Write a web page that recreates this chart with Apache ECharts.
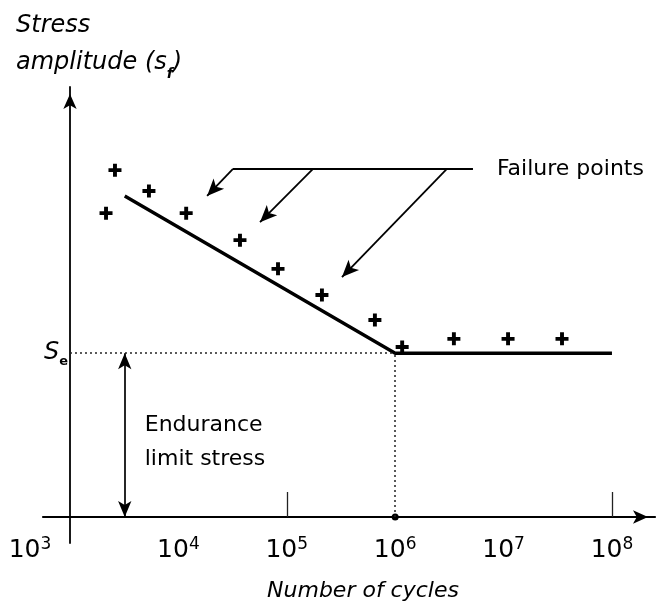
<!DOCTYPE html>
<html>
<head>
<meta charset="utf-8">
<script src="https://cdn.jsdelivr.net/npm/echarts@6/dist/echarts.min.js"></script>
<style>
  html, body { margin: 0; padding: 0; background: #fff; }
  #chart { width: 658px; height: 606px; }
</style>
</head>
<body>
<div id="chart"></div>
<script>
// ---- data ----
const decadeTicks = [3, 4, 5, 6, 7, 8];             // axis labels 10^n
const failureCycles = [2150, 2600, 5350, 11800, 37000, 83000, 211000, 650000, 1160000, 3480000, 11000000, 34600000];
const failureStress = [74.2, 84.7, 79.6, 74.2, 67.6, 60.6, 54.2, 48.1, 41.5, 43.5, 43.5, 43.5];
const curveCycles = [3200, 1000000, 100000000];
const curveStress = [78.4, 40, 40];
const enduranceLimit = 40;
const enduranceCycles = 1000000;
const enduranceArrowCycles = 3200;
const axisTickCycles = [100000, 100000000];
const calloutStartCycles = [31900, 174600, 3000000];
const calloutTipCycles = [18400, 56600, 323000];
const calloutTipStress = [78.4, 72.0, 58.6];
const calloutLineStress = 85;
const calloutEndCycles = 5220000;

// decades above 10^3 (so that 10^3 sits on the stress axis)
const lx = n => Math.log10(n) - 3;

const FONT = 'DejaVu Sans';
const INK = '#000';
const plusPath = 'path://M3.5,0 H6.5 V3.5 H10 V6.5 H6.5 V10 H3.5 V6.5 H0 V3.5 H3.5 Z';

const chart = echarts.init(document.getElementById('chart'), null, { renderer: 'canvas' });

const calloutLines = [
  [{ coord: [lx(calloutStartCycles[0]), calloutLineStress], symbol: 'none' },
   { coord: [lx(calloutEndCycles), calloutLineStress], symbol: 'none',
     label: { show: true, position: 'end', distance: 24, formatter: 'Failure points',
              fontFamily: FONT, fontSize: 22, color: INK } }]
];
for (let i = 0; i < calloutStartCycles.length; i++) {
  calloutLines.push([
    { coord: [lx(calloutStartCycles[i]), calloutLineStress], symbol: 'none' },
    { coord: [lx(calloutTipCycles[i]), calloutTipStress[i]], symbol: 'arrow' }
  ]);
}

const option = {
  animation: false,
  backgroundColor: '#fff',
  title: {
    text: '{i|Stress}\n{i|amplitude (s}{f|f}{i|)}',
    left: 16, top: 7, padding: 0,
    textStyle: {
      fontWeight: 'normal',
      rich: {
        i: { fontFamily: FONT, fontStyle: 'italic', fontWeight: 'normal', fontSize: 24, lineHeight: 37, color: INK },
        f: { fontFamily: FONT, fontStyle: 'italic', fontWeight: 'bold', fontSize: 14, lineHeight: 32, color: INK, verticalAlign: 'bottom' }
      }
    }
  },
  grid: { left: 43, right: 3, top: 87, bottom: 63, containLabel: false, outerBoundsMode: 'none' },
  xAxis: {
    type: 'value',
    min: -0.249, max: 5.397,
    axisLine: { show: true, onZero: true, symbol: ['none', 'arrow'], symbolSize: [10, 15], symbolOffset: [0, -7],
      lineStyle: { color: INK, width: 2.2 } },
    axisTick: { show: false },
    splitLine: { show: false },
    axisLabel: {
      showMinLabel: false, showMaxLabel: false,
      margin: -7,
      formatter: v => {
        if (Math.abs(v - Math.round(v)) > 1e-6) return '';
        const e = Math.round(v) + 3;
        if (decadeTicks.indexOf(e) < 0) return '';
        return e === 3 ? '{b|10}{s|' + e + '}{p|}' : '{b|10}{s|' + e + '}';
      },
      rich: {
        b: { fontFamily: FONT, fontSize: 25, lineHeight: 28, color: INK },
        s: { fontFamily: FONT, fontSize: 17, lineHeight: 16, color: INK, verticalAlign: 'top' },
        p: { width: 80 }
      }
    },
    name: 'Number of cycles',
    nameLocation: 'middle',
    nameGap: 37,
    nameTextStyle: { fontFamily: FONT, fontStyle: 'italic', fontSize: 22, color: INK, padding: [0, 0, 0, 28] }
  },
  yAxis: {
    type: 'value',
    min: -6.35, max: 105,
    axisLine: { show: true, onZero: true, symbol: ['none', 'arrow'], symbolSize: [10, 15], symbolOffset: [0, -7],
      lineStyle: { color: INK, width: 1.8 } },
    axisTick: { show: false },
    axisLabel: { show: false },
    splitLine: { show: false }
  },
  series: [
    {
      name: 'S-N curve',
      type: 'line',
      data: curveCycles.map((c, i) => [lx(c), curveStress[i]]),
      symbol: 'none',
      lineStyle: { color: INK, width: 3.4 },
      z: 3,
      markLine: {
        silent: true,
        symbol: ['none', 'none'],
        label: { show: false },
        lineStyle: { color: '#222', width: 1.5, type: [2, 3] },
        data: [
          [{ coord: [0, enduranceLimit], label: { show: true, position: 'start', distance: 2,
               formatter: '{S|S}{e|e}',
               rich: {
                 S: { fontFamily: FONT, fontStyle: 'italic', fontSize: 24, lineHeight: 30, color: INK },
                 e: { fontFamily: FONT, fontWeight: 'bold', fontSize: 13, lineHeight: 30, color: INK, verticalAlign: 'bottom' }
               } } },
           { coord: [lx(enduranceCycles), enduranceLimit] }],
          [{ coord: [lx(enduranceCycles), 0] }, { coord: [lx(enduranceCycles), enduranceLimit] }],
          [{ coord: [lx(enduranceArrowCycles), 0], symbol: 'arrow' },
           { coord: [lx(enduranceArrowCycles), enduranceLimit], symbol: 'arrow',
             lineStyle: { type: 'solid', width: 1.7, color: INK } }]
        ].concat(axisTickCycles.map(c => [
          { coord: [lx(c), 0] },
          { coord: [lx(c), 6.1], lineStyle: { type: 'solid', width: 1.3, color: '#222' } }
        ])),
        symbolSize: [10, 16]
      }
    },
    {
      name: 'Failure points',
      type: 'scatter',
      data: failureCycles.map((c, i) => [lx(c), failureStress[i]]),
      symbol: plusPath,
      symbolSize: 13,
      itemStyle: { color: INK, opacity: 1 },
      z: 4,
      markLine: {
        silent: true,
        symbolSize: [11, 17],
        lineStyle: { color: INK, width: 1.8, type: 'solid' },
        label: { show: false },
        data: calloutLines
      }
    },
    {
      name: 'annotations',
      type: 'scatter',
      data: [[lx(enduranceArrowCycles), 18.3]],
      symbolSize: 0,
      silent: true,
      itemStyle: { opacity: 1 },
      label: {
        show: true, position: 'right', distance: 20,
        formatter: 'Endurance\nlimit stress',
        fontFamily: FONT, fontSize: 22, lineHeight: 34, color: INK, align: 'left', opacity: 1
      }
    },
    {
      name: 'endurance point',
      type: 'scatter',
      data: [[lx(enduranceCycles), 0]],
      symbol: 'circle',
      symbolSize: 7,
      itemStyle: { color: INK, opacity: 1 },
      silent: true
    }
  ]
};
chart.setOption(option);
</script>
</body>
</html>
